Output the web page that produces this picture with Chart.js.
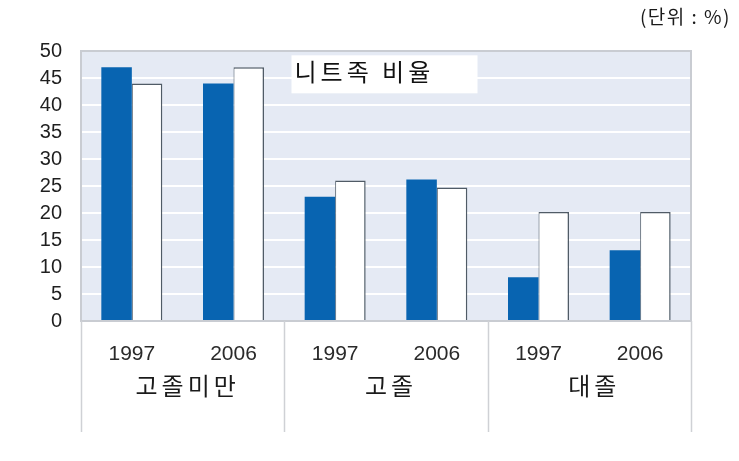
<!DOCTYPE html>
<html><head><meta charset="utf-8">
<script src="https://cdn.jsdelivr.net/npm/chart.js@4/dist/chart.umd.min.js"></script>
<style>html,body{margin:0;padding:0;background:#fff}#wrap{width:739px;height:461px;position:relative}</style>
</head><body><div id="wrap"><canvas id="c" width="739" height="461"></canvas></div>
<script>
const years = ['1997','2006','1997','2006','1997','2006'];
const groups = ['고졸미만','고졸','대졸'];
const seriesA = [47, 44, 23, 26.2, 8.1, 13.1];
const seriesB = [44, 47, 26, 24.7, 20.2, 20.2];
const yTicks = [0,5,10,15,20,25,30,35,40,45,50];
const titleText = '니트족 비율';
const unitText = '(단위 : %)';

const KR = '"Noto Sans CJK KR", "Noto Sans", sans-serif';
const AR = '"Liberation Sans", Arial, sans-serif';

const deco = {
  id: 'deco',
  beforeDraw(chart) {
    const {ctx, chartArea: a} = chart;
    ctx.save();
    ctx.fillStyle = '#e5eaf4';
    ctx.fillRect(a.left, a.top, a.right - a.left, a.bottom - a.top);
    ctx.restore();
  },
  beforeDatasetsDraw(chart) {
    const {ctx, chartArea: a, scales} = chart;
    ctx.save();
    ctx.strokeStyle = '#c9ccd2';
    ctx.lineWidth = 2;
    ctx.strokeRect(a.left, a.top, a.right - a.left, a.bottom - a.top);
    const x0 = scales.x.getPixelForValue(1) + 58;
    const y0 = scales.y.getPixelForValue(49.2);
    ctx.fillStyle = '#ffffff';
    ctx.fillRect(x0, y0, 186, 38);
    ctx.fillStyle = '#111';
    ctx.font = '24px ' + KR;
    ctx.letterSpacing = '4px';
    ctx.textBaseline = 'middle';
    ctx.textAlign = 'left';
    ctx.fillText(titleText, x0 + 3, y0 + 17);
    ctx.restore();
  },
  afterDraw(chart) {
    const {ctx, chartArea: a, scales} = chart;
    const x = scales.x;
    ctx.save();
    ctx.strokeStyle = '#cfd1d5';
    ctx.lineWidth = 1.5;
    const half = (x.getPixelForValue(1) - x.getPixelForValue(0)) / 2;
    for (let g = 0; g <= groups.length; g++) {
      const px = Math.round(x.getPixelForValue(g * 2) - half) + 0.5;
      ctx.beginPath();
      ctx.moveTo(px, a.bottom);
      ctx.lineTo(px, a.bottom + 111);
      ctx.stroke();
    }
    ctx.fillStyle = '#1a1a1a';
    ctx.font = '24px ' + KR;
    ctx.letterSpacing = '4px';
    ctx.textAlign = 'center';
    ctx.textBaseline = 'middle';
    groups.forEach((gname, g) => {
      const cx = (x.getPixelForValue(g * 2) + x.getPixelForValue(g * 2 + 1)) / 2;
      ctx.fillText(gname, cx + 5, a.bottom + 65);
    });
    ctx.font = '19px ' + KR;
    ctx.letterSpacing = '1.5px';
    ctx.textAlign = 'right';
    ctx.fillText(unitText, 731, 17);
    ctx.restore();
  }
};

new Chart(document.getElementById('c'), {
  type: 'bar',
  data: {
    labels: years,
    datasets: [
      { data: seriesA, backgroundColor: '#0864b1', borderWidth: 0 },
      { data: seriesB, backgroundColor: '#ffffff', borderColor: '#505b66', borderWidth: {top:1.5, right:1.5, left:1, bottom:0}, borderSkipped: 'bottom' }
    ]
  },
  options: {
    responsive: false,
    animation: false,
    devicePixelRatio: 1,
    layout: { padding: { left: 20, right: 48, top: 51, bottom: 30 } },
    plugins: { legend: { display: false }, tooltip: { enabled: false }, title: { display: false } },
    datasets: { bar: { categoryPercentage: 0.6, barPercentage: 1.0 } },
    scales: {
      x: {
        grid: { display: false, drawTicks: false },
        border: { display: false },
        ticks: { color: '#2a2a2a', font: { family: AR, size: 21 }, padding: 21, maxRotation: 0 },
        afterFit: s => { s.height = 110; }
      },
      y: {
        min: 0, max: 50,
        afterBuildTicks: s => { s.ticks = yTicks.map(v => ({ value: v })); },
        grid: { color: '#ffffff', lineWidth: 2, drawTicks: false },
        border: { display: false },
        ticks: { color: '#1f1f1f', font: { family: AR, size: 20 }, padding: 19 },
        afterFit: s => { s.width = 61; }
      }
    }
  },
  plugins: [deco]
});
</script>
</body></html>
